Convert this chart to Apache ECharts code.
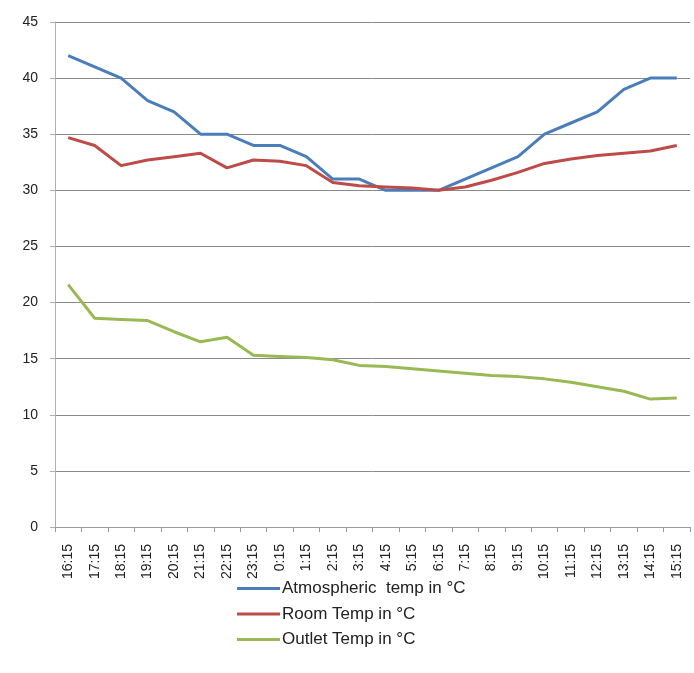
<!DOCTYPE html>
<html>
<head>
<meta charset="utf-8">
<script src="https://cdn.jsdelivr.net/npm/echarts@6/dist/echarts.min.js"></script>
<style>
  html, body { margin: 0; padding: 0; background: #fff; }
  #chart { width: 694px; height: 673px; }
</style>
</head>
<body>
<div id="chart"></div>
<script>
// Hourly readings over one day
const times = ['16:15','17:15','18:15','19:15','20:15','21:15','22:15','23:15','0:15','1:15','2:15','3:15',
               '4:15','5:15','6:15','7:15','8:15','9:15','10:15','11:15','12:15','13:15','14:15','15:15'];
const atmospheric = [42, 41, 40, 38, 37, 35, 35, 34, 34, 33, 31, 31, 30, 30, 30, 31, 32, 33, 35, 36, 37, 39, 40, 40];
const room = [34.7, 34.0, 32.2, 32.7, 33.0, 33.3, 32.0, 32.7, 32.6, 32.2, 30.7, 30.4, 30.3, 30.2, 30.0, 30.3, 30.9, 31.6, 32.4, 32.8, 33.1, 33.3, 33.5, 34.0];
const outlet = [21.6, 18.6, 18.5, 18.4, 17.4, 16.5, 16.9, 15.3, 15.2, 15.1, 14.9, 14.4, 14.3, 14.1, 13.9, 13.7, 13.5, 13.4, 13.2, 12.9, 12.5, 12.1, 11.4, 11.5];
const yTicks = { min: 0, max: 45, step: 5 };

const font = 'Liberation Sans';
const chart = echarts.init(document.getElementById('chart'));

function lineSeries(name, data, color) {
  return {
    name, type: 'line', data,
    symbol: 'none',
    lineStyle: { color, width: 3 },
    itemStyle: { color },
    animation: false
  };
}

chart.setOption({
  animation: false,
  grid: { left: 55, right: 4, top: 22, bottom: 146 },
  legend: {
    orient: 'vertical',
    left: 237,
    top: 580,
    padding: 0,
    itemGap: 8.5,
    itemWidth: 43,
    itemHeight: 3,
    icon: 'rect',
    textStyle: { fontFamily: font, fontSize: 17, lineHeight: 16, color: '#222', padding: [0, 0, 0, -3] },
    data: ['Atmospheric  temp in °C', 'Room Temp in °C', 'Outlet Temp in °C']
  },
  xAxis: {
    type: 'category',
    data: times,
    boundaryGap: true,
    axisLine: { lineStyle: { color: '#9a9a9a', width: 1 } },
    axisTick: { show: true, alignWithLabel: false, length: 5, lineStyle: { color: '#9a9a9a' } },
    axisLabel: { rotate: 90, interval: 0, fontFamily: font, fontSize: 14, color: '#222', margin: 17 }
  },
  yAxis: {
    type: 'value',
    min: yTicks.min, max: yTicks.max, interval: yTicks.step,
    axisLine: { show: true, lineStyle: { color: '#b0b0b0', width: 1 } },
    axisTick: { show: true, length: 5, lineStyle: { color: '#b0b0b0' } },
    axisLabel: { fontFamily: font, fontSize: 14, color: '#222', margin: 17 },
    splitLine: { lineStyle: { color: '#8a8a8a', width: 1 } }
  },
  series: [
    lineSeries('Atmospheric  temp in °C', atmospheric, '#4a7ebb'),
    lineSeries('Room Temp in °C', room, '#be4b48'),
    lineSeries('Outlet Temp in °C', outlet, '#98b954')
  ]
});
</script>
</body>
</html>
